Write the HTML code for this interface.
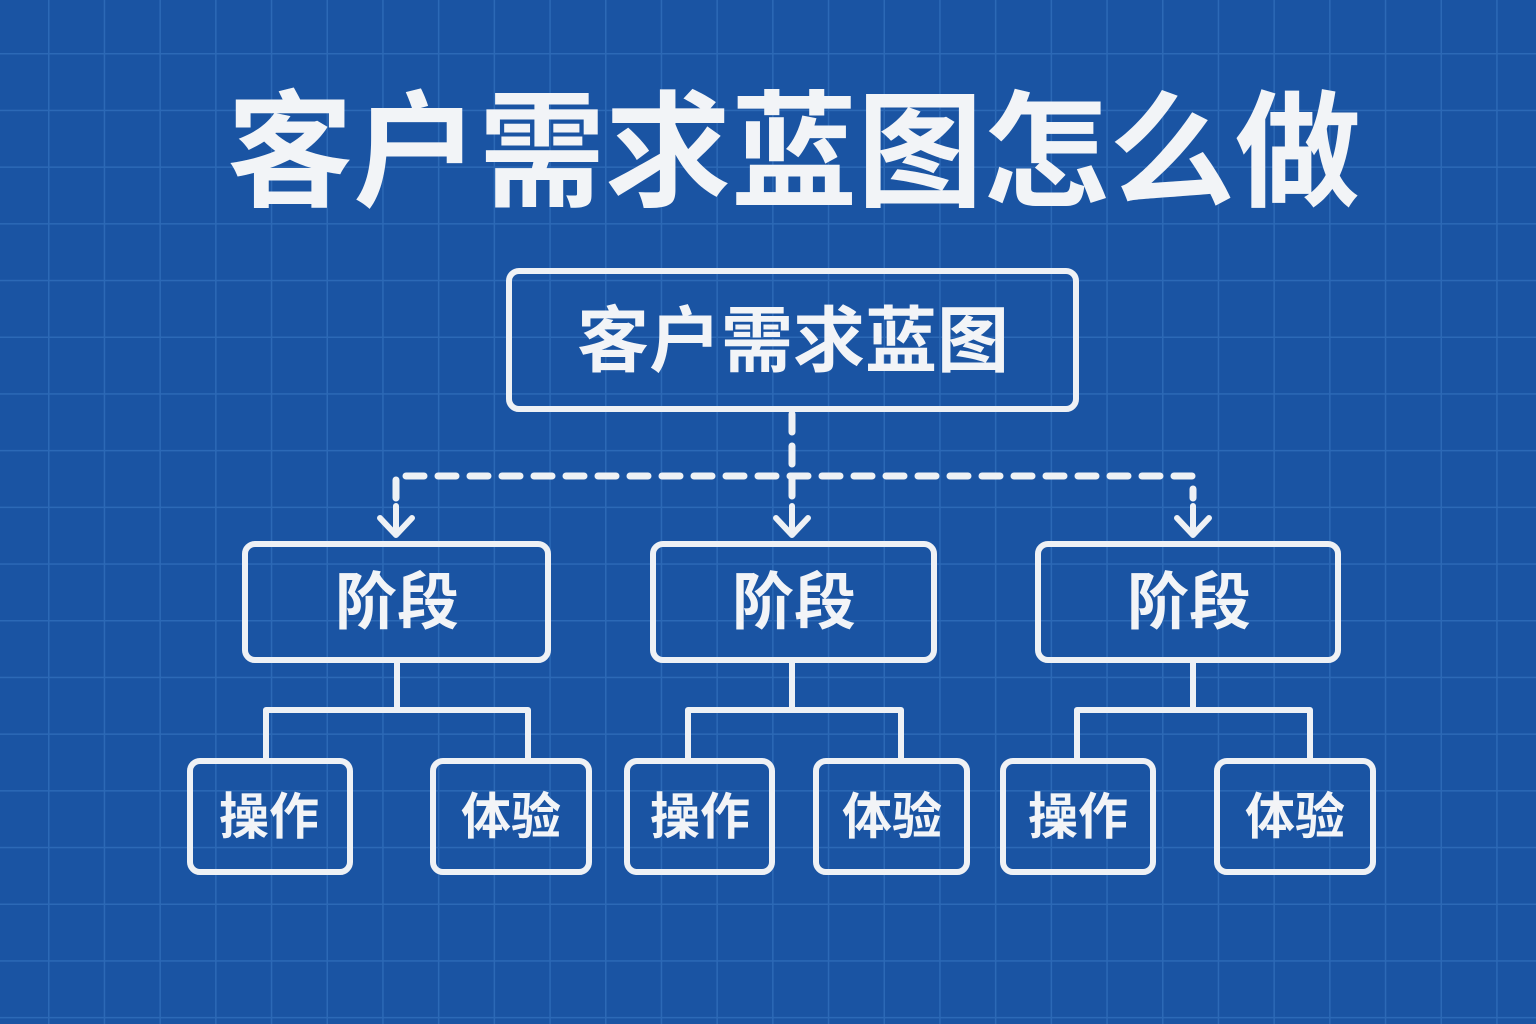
<!DOCTYPE html>
<html><head><meta charset="utf-8"><style>
body{margin:0;width:1536px;height:1024px;overflow:hidden;background:#1a54a3;}
svg{display:block}
text{font-family:"Liberation Sans","Noto Sans CJK SC",sans-serif;font-weight:bold;fill:#f2f4f7;text-anchor:middle;dominant-baseline:central}
</style></head><body>
<svg width="1536" height="1024" viewBox="0 0 1536 1024">
<defs>
<pattern id="g" x="48" y="53" width="55.7" height="56.7" patternUnits="userSpaceOnUse">
<path d="M0 0V56.7M0 0H55.7" stroke="#2c69b6" stroke-width="3" fill="none"/>
</pattern>
</defs>
<rect width="1536" height="1024" fill="#1a54a3"/>
<rect width="1536" height="1024" fill="url(#g)"/>
<text x="794" y="153" font-size="126">客户需求蓝图怎么做</text>
<g fill="none" stroke="#eef1f5" stroke-width="6" stroke-linecap="round" stroke-linejoin="round">
<rect x="509" y="271" width="567" height="138" rx="10"/>
<rect x="245" y="544" width="303" height="116" rx="10"/>
<rect x="653" y="544" width="281" height="116" rx="10"/>
<rect x="1038" y="544" width="300" height="116" rx="10"/>
<rect x="190" y="761" width="160" height="111" rx="10"/>
<rect x="433" y="761" width="156" height="111" rx="10"/>
<rect x="627" y="761" width="145" height="111" rx="10"/>
<rect x="816" y="761" width="151" height="111" rx="10"/>
<rect x="1003" y="761" width="150" height="111" rx="10"/>
<rect x="1217" y="761" width="156" height="111" rx="10"/>
<path d="M397 662V710M266 761V710H528V761"/>
<path d="M792 662V710M688 761V710H901V761"/>
<path d="M1193 662V710M1077 761V710H1310V761"/>
<path d="M396 498V476H1193V498M792 414V498" stroke-dasharray="18 14" stroke-width="7"/>
<path d="M380 518L396 535L412 518M396 506V533"/>
<path d="M776 518L792 535L808 518M792 506V533"/>
<path d="M1177 518L1193 535L1209 518M1193 506V533"/>
</g>
<text x="793" y="342" font-size="72">客户需求蓝图</text>
<text x="397" y="603" font-size="62">阶段</text>
<text x="794" y="603" font-size="62">阶段</text>
<text x="1189" y="603" font-size="62">阶段</text>
<text x="269" y="817" font-size="50">操作</text>
<text x="511" y="817" font-size="50">体验</text>
<text x="700" y="817" font-size="50">操作</text>
<text x="892" y="817" font-size="50">体验</text>
<text x="1078" y="817" font-size="50">操作</text>
<text x="1295" y="817" font-size="50">体验</text>
</svg>
</body></html>
